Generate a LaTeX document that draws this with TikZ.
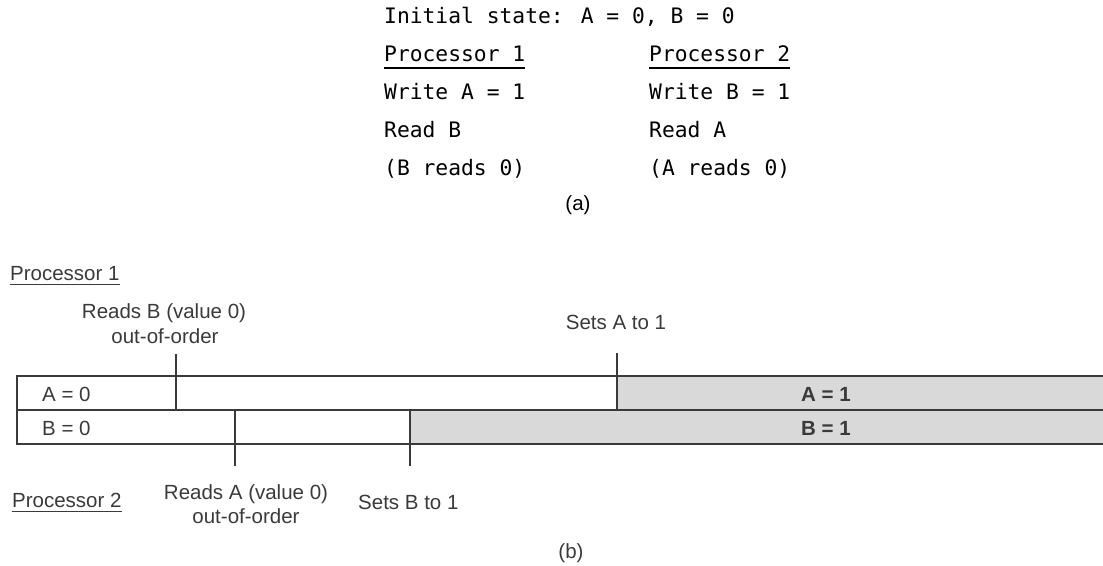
\documentclass[tikz,border=0pt]{standalone}
\usepackage{fontspec}
\setmainfont{Liberation Sans}
\newfontfamily\monofont{DejaVu Sans Mono}
\definecolor{ink}{HTML}{3A3A3A}
\definecolor{greyfill}{HTML}{D9D9D9}
\begin{document}
\begin{tikzpicture}[x=1pt,y=-1pt,
  mono/.style={font=\monofont\fontsize{21.3}{24}\selectfont, inner sep=0pt, anchor=base west, text=black},
  lbl/.style={font=\fontsize{20.5}{24}\selectfont, inner sep=0pt, text=ink},
  boldlbl/.style={font=\fontsize{20.5}{24}\selectfont\bfseries, inner sep=0pt, text=ink, anchor=base},
  frame/.style={draw=ink, line width=1.8pt},
  tickline/.style={draw=ink, line width=1.4pt},
  monoline/.style={draw=black, line width=1.3pt},
  uline/.style={draw=ink, line width=1.2pt},
  greybar/.style={fill=greyfill}]
\useasboundingbox (0,0) rectangle (1103,565);

% ---------- (a) ----------
\node[mono] (init) at (384,23) {Initial state: A = 0, B = 0};
\node[mono] (p1h) at (384,61) {Processor 1};
\node[mono] (p2h) at (649,61) {Processor 2};
\node[mono] (w1) at (384,99) {Write A = 1};
\node[mono] (w2) at (649,99) {Write B = 1};
\node[mono] (r1) at (384,137) {Read B};
\node[mono] (r2) at (649,137) {Read A};
\node[mono] (v1) at (384,175) {(B reads 0)};
\node[mono] (v2) at (649,175) {(A reads 0)};
\draw[monoline] ([yshift=-7pt]p1h.base west) -- ([yshift=-7pt]p1h.base east);
\draw[monoline] ([yshift=-7pt]p2h.base west) -- ([yshift=-7pt]p2h.base east);
\node[lbl, anchor=base, text=black] (capa) at (578,210) {(a)};

% ---------- (b) ----------
\coordinate (nw) at (17,376);
\coordinate (wm) at (17,410);
\coordinate (sw) at (17,444);
\coordinate (ne) at (1106,376);
\coordinate (em) at (1106,410);
\coordinate (se) at (1106,444);
\coordinate (agray) at (617,376);
\coordinate (bgray) at (410,410);

\path[greybar] (agray) rectangle (em);
\path[greybar] (bgray) rectangle (se);
\draw[frame] (ne) -- (nw) -- (sw) -- (se);
\draw[frame] (wm) -- (em);

% ticks
\coordinate (t1top) at (176,354);
\coordinate (t1bot) at (176,410);
\coordinate (t2top) at (617,353);
\coordinate (t2bot) at (617,410);
\coordinate (t3top) at (235,410);
\coordinate (t3bot) at (235,466);
\coordinate (t4top) at (410,410);
\coordinate (t4bot) at (410,466);
\draw[tickline] (t1top) -- (t1bot);
\draw[tickline] (t2top) -- (t2bot);
\draw[tickline] (t3top) -- (t3bot);
\draw[tickline] (t4top) -- (t4bot);

% row labels
\node[lbl, anchor=base west] (a0) at (42,401) {A = 0};
\node[lbl, anchor=base west] (b0) at (42,435) {B = 0};
\node[boldlbl] (a1) at (826,401) {A = 1};
\node[boldlbl] (b1) at (826,435) {B = 1};

% processor 1 labels
\node[lbl, anchor=base west] (pb1) at (10,280) {Processor 1};
\draw[uline] ([yshift=-4.5pt]pb1.base west) -- ([yshift=-4.5pt]pb1.base east);
\node[lbl, anchor=base] (rb1) at (164,318) {Reads B (value 0)};
\node[lbl, anchor=base] (rb2) at (165,343) {out-of-order};
\node[lbl, anchor=base] (sa) at (616,329) {Sets A to 1};

% processor 2 labels
\node[lbl, anchor=base west] (pb2) at (12,507) {Processor 2};
\draw[uline] ([yshift=-4.5pt]pb2.base west) -- ([yshift=-4.5pt]pb2.base east);
\node[lbl, anchor=base] (ra1) at (246,499) {Reads A (value 0)};
\node[lbl, anchor=base] (ra2) at (246,523) {out-of-order};
\node[lbl, anchor=base west] (sb) at (358,509) {Sets B to 1};

\node[lbl, anchor=base] (capb) at (571,558) {(b)};
\end{tikzpicture}
\end{document}
